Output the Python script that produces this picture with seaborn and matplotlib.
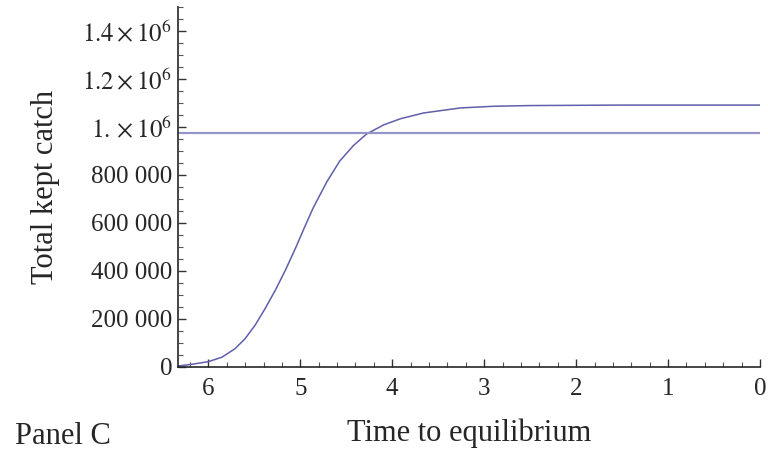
import matplotlib
matplotlib.use("Agg")
import matplotlib.pyplot as plt
import pandas as pd
import seaborn as sns
from matplotlib.ticker import FixedLocator, MultipleLocator

# values
time_to_eq = [6.33, 6.18, 6.00, 5.85, 5.71, 5.60, 5.49, 5.38, 5.27, 5.16,
              5.05, 4.96, 4.86, 4.71, 4.57, 4.42, 4.28, 4.09, 3.91, 3.66,
              3.26, 2.90, 2.50, 1.50, 0.0]
kept_catch = [3000, 10000, 21000, 40000, 75000, 117000, 174000, 244000, 320000, 404000,
              496000, 576000, 662000, 772000, 858000, 923000, 970000, 1009000, 1034000, 1058000,
              1079000, 1086000, 1089000, 1091000, 1091000]
equilibrium_catch = 973000

x_ticks = [6, 5, 4, 3, 2, 1, 0]
y_ticks = [0, 200000, 400000, 600000, 800000, 1000000, 1200000, 1400000]
y_tick_labels = ["0", "200 000", "400 000", "600 000", "800 000",
                 r"$1.\times10^{6}$", r"$1.2\times10^{6}$", r"$1.4\times10^{6}$"]

sns.set_style("ticks")
plt.rcParams["font.family"] = ["Liberation Serif", "DejaVu Serif"]
plt.rcParams["mathtext.fontset"] = "stix"

df = pd.DataFrame({"time": time_to_eq, "catch": kept_catch})

fig = plt.figure(figsize=(7.68, 4.53), dpi=100)
ax = fig.add_axes([178 / 768, 1 - 366.7 / 453, 582 / 768, 359.7 / 453])

sns.lineplot(data=df, x="time", y="catch", ax=ax, color="#5f5fab", lw=1.1)
ax.axhline(equilibrium_catch, color="#9494c9", lw=1.6)

ax.set_xlim(6.33, 0)
ax.set_ylim(0, 1.5e6)
ax.xaxis.set_major_locator(FixedLocator(x_ticks))
ax.xaxis.set_minor_locator(MultipleLocator(0.2))
ax.set_xticklabels([str(t) for t in x_ticks])
ax.yaxis.set_major_locator(FixedLocator(y_ticks))
ax.yaxis.set_minor_locator(MultipleLocator(50000))
ax.set_yticklabels(y_tick_labels)

ax.tick_params(which="major", direction="in", length=6, width=1, labelsize=18, color="#333333")
ax.tick_params(which="minor", direction="in", length=3.5, width=0.8, color="#555555")
ax.tick_params(axis="y", pad=4)
ax.tick_params(axis="x", pad=8)

for side in ("top", "right"):
    ax.spines[side].set_visible(False)
for side in ("left", "bottom"):
    ax.spines[side].set_linewidth(1.2)

ax.set_xlabel("")
ax.set_ylabel("Total kept catch", fontsize=22, labelpad=16)
fig.text(469 / 768, 1 - 433 / 453, "Time to equilibrium", fontsize=22, ha="center", va="center")
fig.text(15 / 768, 1 - 436 / 453, "Panel C", fontsize=22, ha="left", va="center")

fig.savefig("out.png", dpi=100)
